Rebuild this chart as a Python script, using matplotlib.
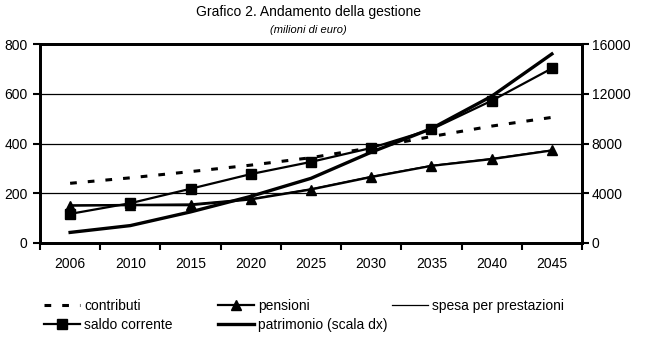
import matplotlib
matplotlib.use('Agg')
import matplotlib.pyplot as plt

# dati
anni = ['2006', '2010', '2015', '2020', '2025', '2030', '2035', '2040', '2045']
contributi = [240, 262, 287, 313, 343, 383, 428, 470, 505]
pensioni = [150, 152, 152, 175, 215, 265, 310, 337, 372]
spesa = [153, 155, 157, 178, 218, 268, 312, 340, 374]
saldo = [117, 160, 218, 277, 326, 382, 457, 572, 702]
patrimonio = [850, 1400, 2500, 3750, 5200, 7300, 9200, 11800, 15200]

plt.rcParams['font.family'] = ['Liberation Sans', 'DejaVu Sans']
fs = 10

fig = plt.figure(figsize=(6.47, 3.45), dpi=100)
ax = fig.add_axes([40/647, 1 - 243/345, 542/647, 199/345])
ax2 = ax.twinx()

x = list(range(len(anni)))

l_contr, = ax.plot(x, contributi, color='black', lw=2.2, linestyle=(0, (2.2, 3.6)),
                   label='contributi')
l_pens, = ax.plot(x, pensioni, color='black', lw=1.6, marker='^', markersize=7,
                  label='pensioni')
l_spesa, = ax.plot(x, spesa, color='black', lw=0.9, label='spesa per prestazioni')
l_saldo, = ax.plot(x, saldo, color='black', lw=1.6, marker='s', markersize=6.5,
                   label='saldo corrente')
l_patr, = ax2.plot(x, patrimonio, color='black', lw=2.4, label='patrimonio (scala dx)')

# assi
ax.set_xlim(-0.5, len(anni) - 0.5)
ax.set_ylim(0, 800)
ax.set_yticks(range(0, 801, 200))
ax2.set_ylim(0, 16000)
ax2.set_yticks(range(0, 16001, 4000))

ax.set_xticks([i - 0.5 for i in range(len(anni) + 1)])
ax.set_xticklabels([])
ax.set_xticks(x, minor=True)
ax.set_xticklabels(anni, minor=True, fontsize=fs)
ax.tick_params(axis='x', which='major', direction='out', length=5, width=1.5, color='black')
ax.tick_params(axis='x', which='minor', length=0, pad=10)
ax.tick_params(axis='y', direction='out', length=5, width=1.5, labelsize=fs, pad=4)
ax2.tick_params(axis='y', direction='out', length=5, width=1.5, labelsize=fs, pad=2)

ax.yaxis.grid(True, color='black', lw=0.9)
ax.set_axisbelow(True)
for a in (ax, ax2):
    for s in a.spines.values():
        s.set_linewidth(2)
        s.set_color('black')

# titoli
fig.text(308/647, 1 - 12/345, 'Grafico 2. Andamento della gestione', ha='center', va='center',
         fontsize=fs)
fig.text(308/647, 1 - 30/345, '(milioni di euro)', ha='center', va='center',
         fontsize=8, style='italic')

# legenda (tre colonne separate)
kw = dict(loc='upper left', frameon=False, fontsize=fs, handlelength=2.6, handletextpad=0.3,
          labelspacing=0.35, borderpad=0, borderaxespad=0, numpoints=1)
fig.legend(handles=[l_contr, l_saldo], bbox_to_anchor=(44/647, 1 - 299/345), **kw)
fig.legend(handles=[l_pens, l_patr], bbox_to_anchor=(218/647, 1 - 299/345), **kw)
fig.legend(handles=[l_spesa], bbox_to_anchor=(392/647, 1 - 299/345), **kw)

fig.savefig('out.png', dpi=100)
